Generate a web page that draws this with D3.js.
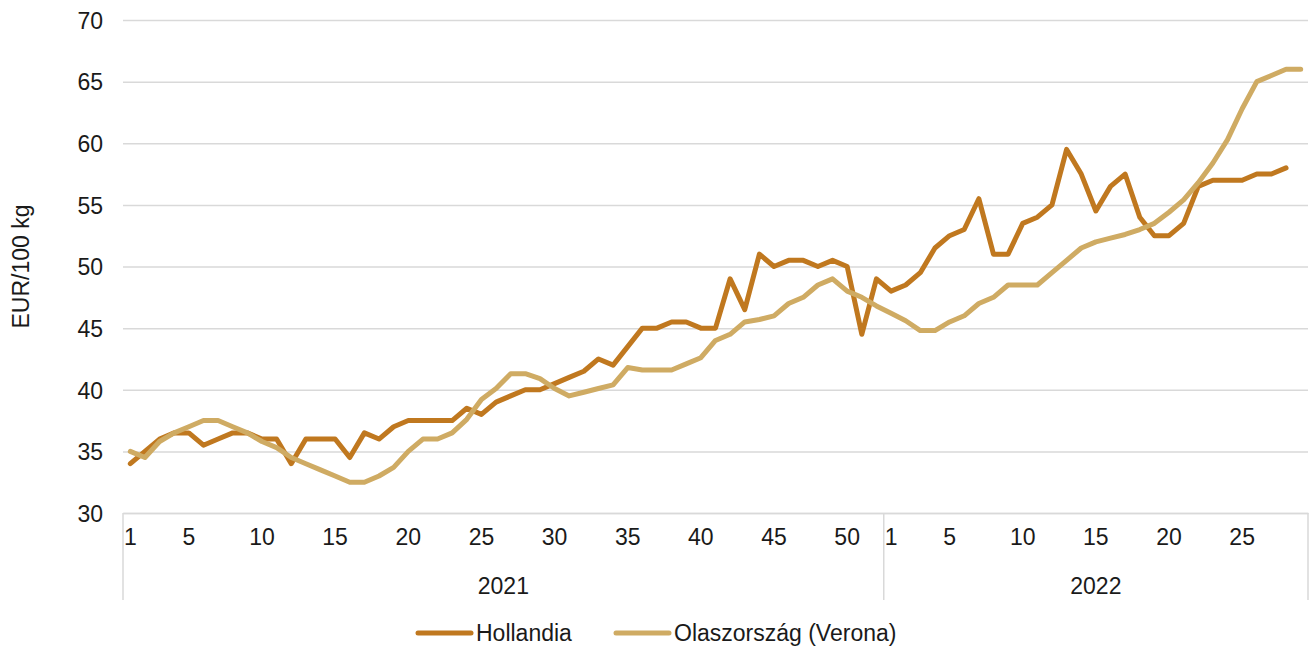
<!DOCTYPE html>
<html>
<head>
<meta charset="utf-8">
<script src="https://cdn.jsdelivr.net/npm/d3@7"></script>
<style>
  body { margin: 0; background: #fff; }
  svg text { font-family: "Liberation Sans", Arial, sans-serif; fill: #1a1a1a; }
</style>
</head>
<body>
<div id="chart"></div>
<script>
// chart size and plot area
const width = 1312;
const height = 650;
const margin = {left: 123, right: 4, top: 20, bottom: 137};
const fontSize = "23px";

// weeks per year on the category axis
const years = ["2021", "2022"];
const weeksPerYear = [52, 29];
const yTicks = [30, 35, 40, 45, 50, 55, 60, 65, 70];

// Hollandia, EUR/100 kg, 2021 weeks 1-52 then 2022 weeks 1-28
const hollandia2021 = [34, 35, 36, 36.5, 36.5, 35.5, 36, 36.5, 36.5, 36,
  36, 34, 36, 36, 36, 34.5, 36.5, 36, 37, 37.5,
  37.5, 37.5, 37.5, 38.5, 38, 39, 39.5, 40, 40, 40.5,
  41, 41.5, 42.5, 42, 43.5, 45, 45, 45.5, 45.5, 45,
  45, 49, 46.5, 51, 50, 50.5, 50.5, 50, 50.5, 50,
  44.5, 49];
const hollandia2022 = [48, 48.5, 49.5, 51.5, 52.5, 53, 55.5, 51, 51, 53.5,
  54, 55, 59.5, 57.5, 54.5, 56.5, 57.5, 54, 52.5, 52.5,
  53.5, 56.5, 57, 57, 57, 57.5, 57.5, 58];

// Olaszország (Verona), EUR/100 kg, 2021 weeks 1-52 then 2022 weeks 1-29
const verona2021 = [35, 34.5, 35.8, 36.5, 37, 37.5, 37.5, 37, 36.5, 35.8,
  35.3, 34.5, 34, 33.5, 33, 32.5, 32.5, 33, 33.7, 35,
  36, 36, 36.5, 37.6, 39.2, 40.1, 41.3, 41.3, 40.9, 40.1,
  39.5, 39.8, 40.1, 40.4, 41.8, 41.6, 41.6, 41.6, 42.1, 42.6,
  44, 44.5, 45.5, 45.7, 46, 47, 47.5, 48.5, 49, 48,
  47.5, 46.8];
const verona2022 = [46.2, 45.6, 44.8, 44.8, 45.5, 46, 47, 47.5, 48.5, 48.5,
  48.5, 49.5, 50.5, 51.5, 52, 52.3, 52.6, 53, 53.5, 54.4,
  55.4, 56.8, 58.4, 60.3, 62.8, 65, 65.5, 66, 66];

const seriesNames = ["Hollandia", "Olaszország (Verona)"];
const colors = ["#c0781f", "#cfab63"];

// build category keys like "2021-1"
const categories = [];
years.forEach((y, i) => {
  for (let w = 1; w <= weeksPerYear[i]; w++) categories.push(y + "-" + w);
});

const toPoints = (vals2021, vals2022) =>
  vals2021.map((v, i) => ({key: "2021-" + (i + 1), value: v}))
    .concat(vals2022.map((v, i) => ({key: "2022-" + (i + 1), value: v})));

const series = [
  toPoints(hollandia2021, hollandia2022),
  toPoints(verona2021, verona2022)
];

const svg = d3.select("#chart")
  .append("svg")
  .attr("width", width)
  .attr("height", height);

const xScale = d3.scaleBand()
  .domain(categories)
  .range([margin.left, width - margin.right]);

const yScale = d3.scaleLinear()
  .domain([30, 70])
  .range([height - margin.bottom, margin.top]);

const plotBottom = height - margin.bottom;

// horizontal gridlines + y labels
const yAxis = svg.append("g")
  .attr("transform", `translate(${margin.left},0)`)
  .call(d3.axisLeft(yScale)
    .tickValues(yTicks)
    .tickSize(-(width - margin.left - margin.right))
    .tickPadding(20));
yAxis.select(".domain").remove();
yAxis.selectAll(".tick line").attr("stroke", "#d9d9d9").attr("stroke-width", 1.5);
yAxis.selectAll(".tick text").attr("font-size", fontSize).attr("dy", "0.36em");

// y axis title
svg.append("text")
  .attr("transform", `translate(29,${(margin.top + plotBottom) / 2}) rotate(-90)`)
  .attr("text-anchor", "middle")
  .attr("font-size", fontSize)
  .text("EUR/100 kg");

// bottom axis: week numbers
const xAxis = svg.append("g")
  .attr("transform", `translate(0,${plotBottom})`)
  .call(d3.axisBottom(xScale)
    .tickSize(0)
    .tickPadding(16)
    .tickFormat(k => {
      const w = +k.split("-")[1];
      return (w === 1 || w % 5 === 0) ? w : "";
    }));
xAxis.select(".domain").attr("stroke", "#d9d9d9").attr("stroke-width", 1.5);
xAxis.selectAll(".tick text").attr("font-size", fontSize);

// year group separators and labels
let start = 0;
const edges = [xScale.range()[0]];
years.forEach((y, i) => {
  const first = categories[start];
  const last = categories[start + weeksPerYear[i] - 1];
  const x0 = xScale(first);
  const x1 = xScale(last) + xScale.bandwidth();
  edges.push(x1);
  svg.append("text")
    .attr("x", (x0 + x1) / 2)
    .attr("y", plotBottom + 81)
    .attr("text-anchor", "middle")
    .attr("font-size", fontSize)
    .text(y);
  start += weeksPerYear[i];
});
svg.selectAll(".sep")
  .data(edges)
  .enter()
  .append("line")
    .attr("class", "sep")
    .attr("x1", d => d)
    .attr("x2", d => d)
    .attr("y1", plotBottom)
    .attr("y2", plotBottom + 87)
    .attr("stroke", "#d9d9d9")
    .attr("stroke-width", 1.5);

// lines
const line = d3.line()
  .x(d => xScale(d.key) + xScale.bandwidth() / 2)
  .y(d => yScale(d.value));

svg.selectAll(".series")
  .data(series)
  .enter()
  .append("path")
    .attr("class", "series")
    .attr("fill", "none")
    .attr("stroke", (d, i) => colors[i])
    .attr("stroke-width", 5)
    .attr("stroke-linejoin", "round")
    .attr("stroke-linecap", "round")
    .attr("d", line);

// legend
const legendX = [418, 616];
const legendY = 633;
const legend = svg.selectAll(".legend")
  .data(seriesNames)
  .enter()
  .append("g")
    .attr("class", "legend")
    .attr("transform", (d, i) => `translate(${legendX[i]},${legendY})`);
legend.append("line")
  .attr("x1", 0).attr("x2", 53)
  .attr("stroke", (d, i) => colors[i])
  .attr("stroke-width", 5)
  .attr("stroke-linecap", "round");
legend.append("text")
  .attr("x", 58)
  .attr("dy", "0.36em")
  .attr("font-size", fontSize)
  .text(d => d);
</script>
</body>
</html>
